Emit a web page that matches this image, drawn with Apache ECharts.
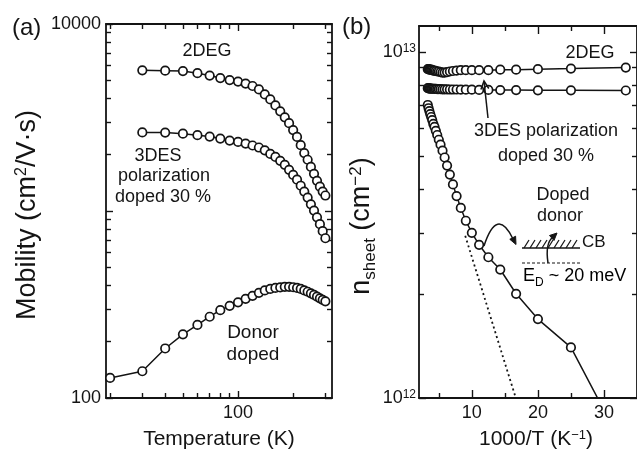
<!DOCTYPE html>
<html>
<head>
<meta charset="utf-8">
<script src="https://cdn.jsdelivr.net/npm/echarts@6/dist/echarts.min.js"></script>
<style>
  html, body { margin: 0; padding: 0; background: #fff; }
  #chart { width: 637px; height: 455px; }
</style>
</head>
<body>
<div id="chart"></div>
<script>
// ---- Panel (a): Hall mobility vs temperature (cm^2/V·s) ----
const tempK = [30, 40, 50, 60, 70, 80, 90, 100, 110, 120, 130, 140, 150, 160, 170,
               180, 190, 200, 210, 220, 230, 240, 250, 260, 270, 280, 290, 300];
const tempDonorK = [20, 30, 40, 50, 60, 70, 80, 90, 100, 110, 120, 130, 140, 150, 160,
                    170, 180, 190, 200, 210, 220, 230, 240, 250, 260, 270, 280, 290, 300];
const mobility2DEG = [5650, 5630, 5600, 5460, 5300, 5140, 5015, 4920, 4800, 4660, 4470, 4200,
                      3950, 3670, 3410, 3170, 2950, 2710, 2490, 2250, 2040, 1880, 1720, 1580,
                      1450, 1350, 1270, 1210];
const mobility3DES = [2630, 2625, 2590, 2545, 2500, 2440, 2380, 2340, 2295, 2240, 2185, 2110,
                      2020, 1945, 1855, 1765, 1660, 1560, 1470, 1365, 1270, 1180, 1085, 1005,
                      925, 850, 780, 715];
const mobilityDonor = [128, 139, 184, 219, 246, 272, 295, 311, 325, 339, 352, 365, 376, 383,
                       388, 390, 393, 393, 391, 388, 383, 376, 370, 363, 356, 348, 341, 335, 329];

// ---- Panel (b): sheet density vs 1000/T (units of 1e12 cm^-2) ----
const invTemp = [3.33, 3.45, 3.57, 3.70, 3.85, 4.00, 4.17, 4.35, 4.55, 4.76, 5.00, 5.26, 5.56,
                 5.88, 6.25, 6.67, 7.14, 7.69, 8.33, 9.09, 10.0, 11.1, 12.5, 14.3, 16.7, 20.0,
                 25.0, 33.3];
const sheet2DEG = [8.91, 8.91, 8.88, 8.88, 8.88, 8.85, 8.82, 8.82, 8.80, 8.77, 8.77, 8.74, 8.71,
                   8.71, 8.74, 8.77, 8.80, 8.82, 8.85, 8.85, 8.85, 8.85, 8.85, 8.88, 8.88, 8.91,
                   8.94, 9.00];
const sheet3DES = [7.85, 7.84, 7.84, 7.83, 7.83, 7.82, 7.82, 7.81, 7.81, 7.80, 7.80, 7.80, 7.79,
                   7.79, 7.79, 7.78, 7.78, 7.78, 7.77, 7.77, 7.77, 7.76, 7.76, 7.75, 7.75, 7.74,
                   7.74, 7.73];
const sheetDonor = [7.02, 6.87, 6.74, 6.61, 6.48, 6.35, 6.19, 6.07, 5.91, 5.75, 5.57, 5.39, 5.18,
                    4.95, 4.69, 4.42, 4.14, 3.83, 3.54, 3.25, 3.00, 2.77, 2.55, 2.35, 2.00, 1.69,
                    1.40, 0.70];
// activation fit of the donor-doped sample (dotted)
const donorFitX = [9.0, 16.65];
const donorFitY = [2.94, 1.00];

// ---- tick marks and labels ----
const tempMajorTicks = [100];
const tempMinorTicks = [20, 30, 40, 50, 60, 70, 80, 90, 200, 300];
const tempLabels = [100];
const mobMajorTicks = [100, 1000, 10000];
const mobMinorTicks = [200, 300, 400, 500, 600, 700, 800, 900,
                       2000, 3000, 4000, 5000, 6000, 7000, 8000, 9000];
const mobLabels = [100, 10000];
const invMajorTicks = [10, 20, 30];
const invMinorTicks = [5, 15, 25];
const invLabels = [10, 20, 30];
const sheetMajorTicks = [1e12, 1e13];
const sheetMinorTicks = [2e12, 3e12, 4e12, 5e12, 6e12, 7e12, 8e12, 9e12];
const sheetLabels = [1e12, 1e13];

const INK = '#141414';
const FONT = '"Liberation Sans", Arial, Helvetica, sans-serif';

const chart = echarts.init(document.getElementById('chart'), null, { renderer: 'canvas', width: 637, height: 455 });

const boxLine = { show: true, onZero: false, lineStyle: { color: INK, width: 1.8 } };

function tickAxis(grid, type, min, max, position, ticks, len, extra) {
  return Object.assign({
    gridIndex: grid, type: type, min: min, max: max, position: position,
    axisLine: { show: false, onZero: false },
    axisTick: { show: true, inside: true, length: len, customValues: ticks,
                lineStyle: { color: INK, width: 1.4 } },
    axisLabel: { show: false },
    splitLine: { show: false },
    axisPointer: { show: false }
  }, extra || {});
}

const plainLabel = (values, margin) => ({
  show: true, customValues: values, margin: margin, color: INK, fontSize: 18, fontFamily: FONT,
  formatter: v => String(Math.round(v))
});

const T_MIN = 19, T_MAX = 326, MU_MIN = 100, MU_MAX = 10000;
const X_MIN = 2, X_MAX = 35, N_MIN = 1e12, N_MAX = 1.187e13;

const xAxes = [
  tickAxis(0, 'log', T_MIN, T_MAX, 'bottom', tempMajorTicks, 7, {
    axisLine: boxLine, axisLabel: plainLabel(tempLabels, 6),
    name: 'Temperature (K)', nameLocation: 'middle', nameGap: 31,
    nameTextStyle: { color: INK, fontSize: 21, fontFamily: FONT }
  }),
  tickAxis(0, 'log', T_MIN, T_MAX, 'bottom', tempMinorTicks, 5),
  tickAxis(0, 'log', T_MIN, T_MAX, 'top', tempMajorTicks, 7, { axisLine: boxLine }),
  tickAxis(0, 'log', T_MIN, T_MAX, 'top', tempMinorTicks, 5),
  tickAxis(1, 'value', X_MIN, X_MAX, 'bottom', invMajorTicks, 8, {
    axisLine: boxLine, axisLabel: plainLabel(invLabels, 6),
    name: '{t|1000/T (K}{sup|\u22121}{t|)}', nameLocation: 'middle', nameGap: 31,
    nameTextStyle: {
      color: INK, fontFamily: FONT, padding: [0, 0, 0, 16],
      rich: {
        t: { fontSize: 21, fontFamily: FONT, color: INK },
        sup: { fontSize: 13, fontFamily: FONT, color: INK, verticalAlign: 'top' }
      }
    }
  }),
  tickAxis(1, 'value', X_MIN, X_MAX, 'bottom', invMinorTicks, 5),
  tickAxis(1, 'value', X_MIN, X_MAX, 'top', invMajorTicks, 8, { axisLine: boxLine }),
  tickAxis(1, 'value', X_MIN, X_MAX, 'top', invMinorTicks, 5)
];

const yAxes = [
  tickAxis(0, 'log', MU_MIN, MU_MAX, 'left', mobMajorTicks, 7, {
    axisLine: boxLine, axisLabel: plainLabel(mobLabels, 5),
    name: '{t|Mobility (cm}{sup|2}{t|/V\u00b7s)}', nameLocation: 'middle', nameGap: 65, nameRotate: 90,
    nameTextStyle: {
      color: INK, fontFamily: FONT, padding: [0, 8, 0, 0],
      rich: {
        t: { fontSize: 27, fontFamily: FONT, color: INK },
        sup: { fontSize: 16, fontFamily: FONT, color: INK, verticalAlign: 'top' }
      }
    }
  }),
  tickAxis(0, 'log', MU_MIN, MU_MAX, 'left', mobMinorTicks, 5),
  tickAxis(0, 'log', MU_MIN, MU_MAX, 'right', mobMajorTicks, 7, { axisLine: boxLine }),
  tickAxis(0, 'log', MU_MIN, MU_MAX, 'right', mobMinorTicks, 5),
  tickAxis(1, 'log', N_MIN, N_MAX, 'left', sheetMajorTicks, 7, {
    axisLine: boxLine,
    axisLabel: {
      show: true, customValues: sheetLabels, margin: 3,
      formatter: v => '{b|10}{s|' + Math.round(Math.log10(v)) + '}',
      rich: {
        b: { fontSize: 18, fontFamily: FONT, color: INK },
        s: { fontSize: 12, fontFamily: FONT, color: INK, verticalAlign: 'top' }
      }
    },
    name: '{t|n}{sub|sheet}{t| (cm}{sup|\u22122}{t|)}', nameLocation: 'middle', nameGap: 40, nameRotate: 90,
    nameTextStyle: {
      color: INK, fontFamily: FONT, padding: [0, 28, 0, 0],
      rich: {
        t: { fontSize: 27, fontFamily: FONT, color: INK, padding: [0, 0, 4, 0] },
        sub: { fontSize: 17, fontFamily: FONT, color: INK, verticalAlign: 'bottom' },
        sup: { fontSize: 17, fontFamily: FONT, color: INK, verticalAlign: 'top' }
      }
    }
  }),
  tickAxis(1, 'log', N_MIN, N_MAX, 'left', sheetMinorTicks, 5),
  tickAxis(1, 'log', N_MIN, N_MAX, 'right', sheetMajorTicks, 7, { axisLine: boxLine }),
  tickAxis(1, 'log', N_MIN, N_MAX, 'right', sheetMinorTicks, 5)
];

function circleSeries(xIdx, yIdx, data) {
  return {
    type: 'line', xAxisIndex: xIdx, yAxisIndex: yIdx, data: data,
    symbol: 'circle', symbolSize: 8.5, showSymbol: true,
    itemStyle: { color: '#fff', borderColor: INK, borderWidth: 1.7 },
    lineStyle: { color: INK, width: 1.5 },
    emphasis: { disabled: true }, z: 3
  };
}

const series = [
  circleSeries(0, 0, tempK.map((t, i) => [t, mobility2DEG[i]])),
  circleSeries(0, 0, tempK.map((t, i) => [t, mobility3DES[i]])),
  circleSeries(0, 0, tempDonorK.map((t, i) => [t, mobilityDonor[i]])),
  {
    type: 'line', xAxisIndex: 4, yAxisIndex: 4,
    data: donorFitX.map((x, i) => [x, donorFitY[i] * 1e12]),
    symbol: 'none', lineStyle: { color: INK, width: 1.8, type: [2, 3] }, z: 2
  },
  circleSeries(4, 4, invTemp.map((x, i) => [x, sheet2DEG[i] * 1e12])),
  circleSeries(4, 4, invTemp.map((x, i) => [x, sheet3DES[i] * 1e12])),
  circleSeries(4, 4, invTemp.map((x, i) => [x, sheetDonor[i] * 1e12]))
];

function label(x, y, text, size, align) {
  return {
    type: 'text', x: x, y: y, z: 10,
    style: { text: text, fill: INK, fontSize: size, fontFamily: FONT,
             textAlign: align || 'center', textVerticalAlign: 'middle' }
  };
}
function seg(x1, y1, x2, y2, w, dash) {
  return { type: 'line', z: 10, shape: { x1, y1, x2, y2 },
           style: { stroke: INK, lineWidth: w || 1.4, lineDash: dash || null } };
}
function head(points, filled) {
  return filled
    ? { type: 'polygon', z: 10, shape: { points }, style: { fill: INK, stroke: INK, lineWidth: 1 } }
    : { type: 'polyline', z: 10, shape: { points }, style: { stroke: INK, lineWidth: 1.5, fill: null } };
}

const graphics = [
  label(12, 28, '(a)', 24, 'left'),
  label(342, 27, '(b)', 24, 'left'),
  // panel (a) notes
  label(207, 51, '2DEG', 18),
  label(158, 156, '3DES', 18),
  label(164, 176, 'polarization', 18),
  label(163, 197, 'doped 30 %', 18),
  label(253, 333, 'Donor', 19),
  label(253, 355, 'doped', 19),
  // panel (b) notes
  label(590, 53, '2DEG', 18),
  label(546, 131, '3DES polarization', 18),
  label(546, 156, 'doped 30 %', 18),
  label(563, 195, 'Doped', 18),
  label(560, 216, 'donor', 18),
  label(582, 242, 'CB', 17, 'left'),
  {
    type: 'text', x: 523, y: 278, z: 10,
    style: {
      text: '{m|E}{s|D}{m| ~ 20 meV}', textAlign: 'left', textVerticalAlign: 'middle',
      rich: {
        m: { fontSize: 18, fontFamily: FONT, color: INK, padding: [0, 0, 4, 0] },
        s: { fontSize: 12, fontFamily: FONT, color: INK, verticalAlign: 'bottom' }
      }
    }
  },
  // pointer to the 3DES curve
  seg(488, 118, 484, 81, 1.5),
  head([[480.9, 89.4], [484, 81], [488.8, 88.5]], false),
  // curved arrow from the donor curve to the band sketch
  { type: 'bezierCurve', z: 10, shape: { x1: 484, y1: 246, cpx1: 497, cpy1: 206, x2: 513, y2: 239 },
    style: { stroke: INK, lineWidth: 1.5, fill: null } },
  head([[516, 244.5], [515.6, 236.2], [509.8, 239.3]], true),
  // band sketch: conduction band edge with hatching, donor level dashed
  seg(522, 248, 580, 248, 1.6),
  seg(522, 263, 580, 263, 1.2, [3, 2]),
  { type: 'bezierCurve', z: 10, shape: { x1: 548, y1: 263, cpx1: 545, cpy1: 243, x2: 553, y2: 237 },
    style: { stroke: INK, lineWidth: 1.5, fill: null } },
  head([[557, 233], [549.5, 235.5], [554, 240.5]], true)
];
for (let hx = 524; hx <= 574; hx += 6) {
  graphics.push(seg(hx, 248, hx + 5, 240, 1.2));
}

chart.setOption({
  animation: false,
  backgroundColor: '#ffffff',
  textStyle: { fontFamily: FONT, color: INK },
  grid: [
    { left: 106, top: 24, width: 226, height: 377 },
    { left: 419, top: 26, width: 226.7, height: 376 }
  ],
  xAxis: xAxes,
  yAxis: yAxes,
  series: series,
  graphic: { elements: graphics }
});
</script>
</body>
</html>
